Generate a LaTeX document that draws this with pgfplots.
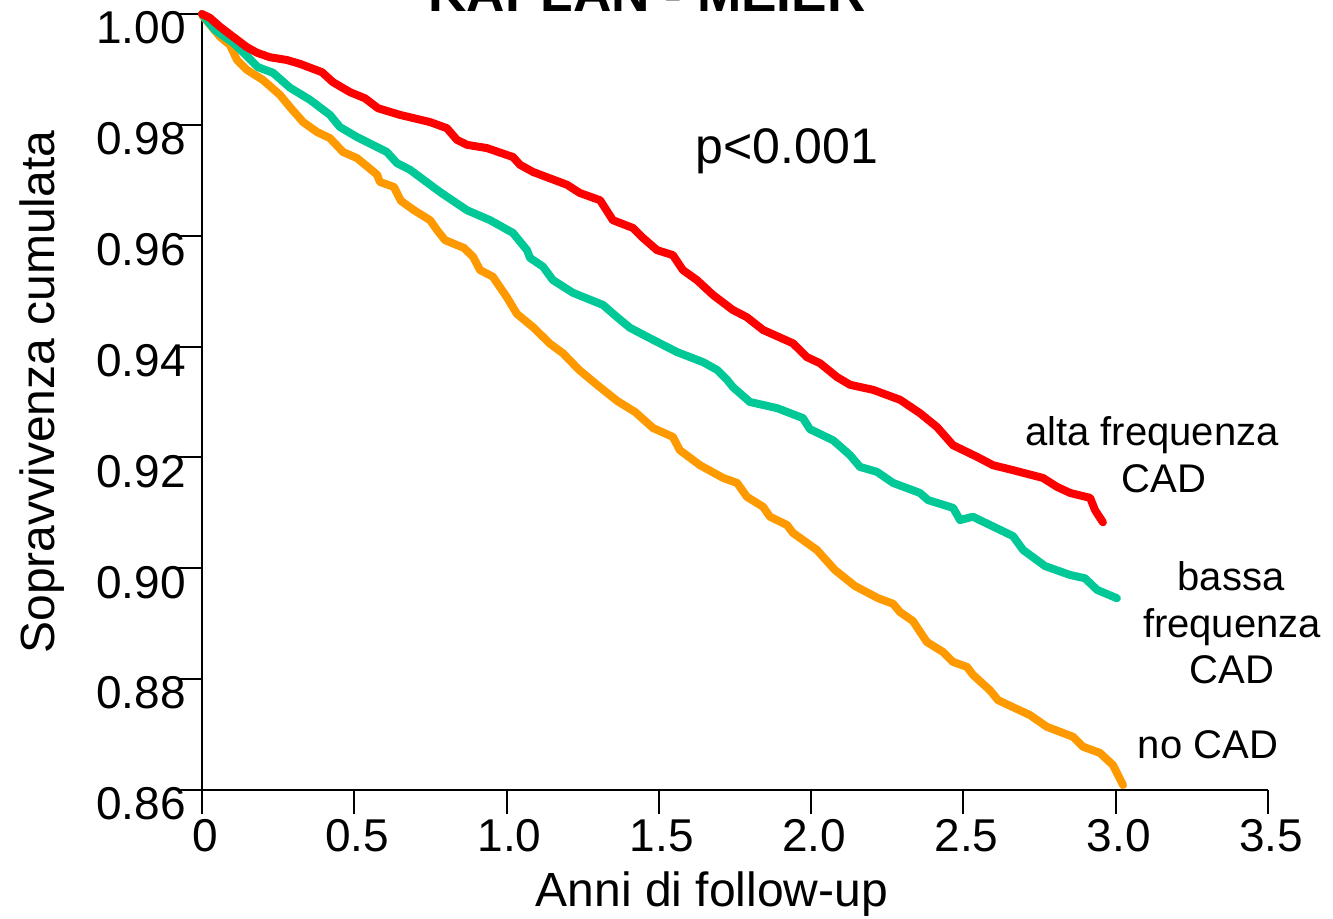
\documentclass[border=0pt]{standalone}
\usepackage{fontspec}
\setmainfont{Liberation Sans}
\usepackage{pgfplots}
\pgfplotsset{compat=1.18}
\definecolor{kmred}{RGB}{255,0,0}
\definecolor{kmgreen}{RGB}{0,200,150}
\definecolor{kmorange}{RGB}{255,153,0}
\newcommand{\fs}[1]{\fontsize{#1}{#1}\selectfont}

\begin{document}
\begin{tikzpicture}
\path[use as bounding box] (-101pt,-64pt) rectangle (565.5pt,395pt);
\begin{axis}[
  at={(0,0)}, anchor=south west,
  scale only axis, width=533pt, height=388pt,
  xmin=0, xmax=3.5, ymin=0.86, ymax=1.00,
  axis x line*=bottom, axis y line*=left,
  axis line style={line width=1pt, black},
  xtick={0,0.5,1,1.5,2,2.5,3,3.5},
  xticklabels={0,0.5,1.0,1.5,2.0,2.5,3.0,3.5},
  ytick={0.86,0.88,0.90,0.92,0.94,0.96,0.98,1.00},
  yticklabels={0.86,0.88,0.90,0.92,0.94,0.96,0.98,1.00},
  tick align=outside, major tick length=12pt,
  tick style={line width=1pt, black},
  xticklabel style={font=\fs{23}, anchor=north, inner sep=0pt, xshift=1.5pt, yshift=-2.5pt},
  yticklabel style={font=\fs{23}, anchor=east, inner sep=0pt, xshift=4pt, yshift=-7pt},
  clip=false,
  every axis plot/.append style={line width=4pt, line join=round, line cap=round},
]
% no CAD
\addplot[kmorange] coordinates {
(0,1.0000)(0.003,0.9996)(0.059,0.9959)(0.092,0.9944)(0.115,0.9917)(0.148,0.9899)
(0.200,0.9881)(0.256,0.9854)(0.289,0.9832)(0.332,0.9805)(0.378,0.9787)(0.420,0.9776)
(0.463,0.9751)(0.509,0.9740)(0.529,0.9731)(0.575,0.9710)(0.584,0.9697)(0.630,0.9688)
(0.653,0.9663)(0.696,0.9646)(0.749,0.9628)(0.772,0.9610)(0.798,0.9592)(0.860,0.9578)
(0.890,0.9562)(0.913,0.9538)(0.955,0.9526)(1.001,0.9489)(1.034,0.9459)(1.087,0.9435)
(1.143,0.9405)(1.185,0.9388)(1.238,0.9358)(1.297,0.9331)(1.363,0.9302)(1.422,0.9282)
(1.481,0.9253)(1.546,0.9237)(1.569,0.9213)(1.635,0.9186)(1.711,0.9163)(1.757,0.9154)
(1.789,0.9129)(1.842,0.9111)(1.865,0.9093)(1.921,0.9078)(1.940,0.9064)(2.019,0.9033)
(2.078,0.8997)(2.144,0.8968)(2.220,0.8946)(2.269,0.8936)(2.292,0.8921)(2.334,0.8905)
(2.380,0.8867)(2.433,0.8849)(2.466,0.8831)(2.512,0.8822)(2.531,0.8808)(2.587,0.8780)
(2.614,0.8762)(2.719,0.8735)(2.774,0.8714)(2.860,0.8696)(2.893,0.8678)(2.948,0.8667)
(2.991,0.8645)(3.024,0.8609)
};
% bassa frequenza CAD
\addplot[kmgreen] coordinates {
(0,1.0000)(0.043,0.9971)(0.102,0.9948)(0.135,0.9931)(0.184,0.9904)(0.233,0.9894)
(0.289,0.9867)(0.355,0.9845)(0.420,0.9818)(0.453,0.9796)(0.509,0.9778)(0.607,0.9751)
(0.640,0.9731)(0.683,0.9719)(0.781,0.9679)(0.870,0.9646)(0.946,0.9628)(1.021,0.9605)
(1.067,0.9574)(1.077,0.9560)(1.120,0.9544)(1.152,0.9520)(1.218,0.9497)(1.317,0.9475)
(1.363,0.9453)(1.405,0.9434)(1.471,0.9415)(1.560,0.9390)(1.645,0.9372)(1.691,0.9358)
(1.724,0.9340)(1.743,0.9327)(1.799,0.9300)(1.888,0.9289)(1.973,0.9271)(1.996,0.9251)
(2.072,0.9231)(2.128,0.9204)(2.160,0.9183)(2.216,0.9174)(2.269,0.9154)(2.357,0.9136)
(2.384,0.9123)(2.466,0.9109)(2.489,0.9087)(2.531,0.9093)(2.663,0.9058)(2.696,0.9033)
(2.768,0.9004)(2.850,0.8988)(2.899,0.8982)(2.939,0.8961)(3.004,0.8946)
};
% alta frequenza CAD
\addplot[kmred] coordinates {
(0,1.0000)(0.026,0.9993)(0.059,0.9977)(0.102,0.9959)(0.148,0.9940)(0.181,0.9930)
(0.223,0.9922)(0.279,0.9917)(0.322,0.9910)(0.394,0.9895)(0.430,0.9877)(0.486,0.9859)
(0.535,0.9848)(0.578,0.9830)(0.650,0.9818)(0.749,0.9805)(0.804,0.9794)(0.837,0.9773)
(0.870,0.9764)(0.936,0.9758)(1.021,0.9742)(1.044,0.9728)(1.087,0.9715)(1.198,0.9692)
(1.241,0.9677)(1.307,0.9664)(1.349,0.9628)(1.415,0.9614)(1.448,0.9596)(1.494,0.9574)
(1.546,0.9565)(1.579,0.9538)(1.625,0.9520)(1.678,0.9493)(1.743,0.9466)(1.789,0.9453)
(1.842,0.9430)(1.940,0.9406)(1.986,0.9381)(2.029,0.9370)(2.085,0.9345)(2.128,0.9331)
(2.203,0.9322)(2.292,0.9304)(2.357,0.9280)(2.413,0.9255)(2.466,0.9222)(2.545,0.9201)
(2.597,0.9186)(2.663,0.9177)(2.761,0.9163)(2.807,0.9147)(2.850,0.9136)(2.916,0.9127)
(2.932,0.9105)(2.958,0.9083)
};
\end{axis}
% texts, placed in reference pixel units
\begin{scope}[shift={(-101pt,395pt)}, x=0.5pt, y=-0.5pt]
\node[anchor=base, font=\fs{26.6}\bfseries, inner sep=0pt] at (647,12) {KAPLAN - MEIER};
\node[anchor=base, font=\fs{25}, inner sep=0pt] at (787,163) {p<0.001};
\node[anchor=base, font=\fs{20}, inner sep=0pt] at (1152,445) {alta frequenza};
\node[anchor=base, font=\fs{20}, inner sep=0pt] at (1164,492) {CAD};
\node[anchor=base, font=\fs{20}, inner sep=0pt] at (1231,590) {bassa};
\node[anchor=base, font=\fs{20}, inner sep=0pt] at (1232,637) {frequenza};
\node[anchor=base, font=\fs{20}, inner sep=0pt] at (1232,683) {CAD};
\node[anchor=base, font=\fs{20}, inner sep=0pt] at (1208,758) {no CAD};
\node[anchor=base, font=\fs{24}, inner sep=0pt] at (712,906) {Anni di follow-up};
\node[anchor=base, rotate=90, font=\fs{24}, inner sep=0pt] at (55,392) {Sopravvivenza cumulata};
\end{scope}
\end{tikzpicture}
\end{document}
